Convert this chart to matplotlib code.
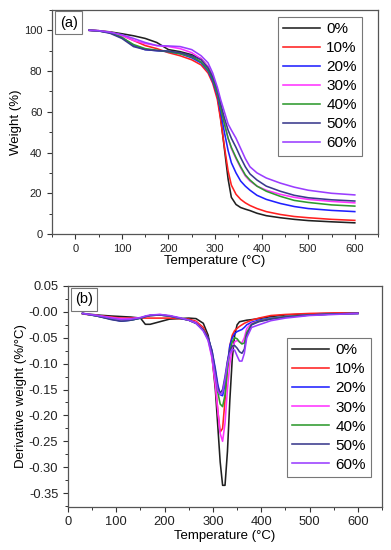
import numpy as np
import matplotlib
matplotlib.use('Agg')
import matplotlib.pyplot as plt
from matplotlib.ticker import MultipleLocator

plt.rcParams['font.family'] = ['Liberation Sans', 'DejaVu Sans']

labels = ['0%', '10%', '20%', '30%', '40%', '50%', '60%']
colors = ['#202020', '#ff2020', '#2020ff', '#ff33ff', '#2e9a2e', '#3a3a8c', '#9a3dff']

# (a) TGA weight loss
temp_a = [30, 50, 75, 100, 125, 150, 175, 200, 225, 250, 270, 285, 295, 305, 312, 320,
          328, 335, 345, 355, 365, 375, 390, 410, 440, 470, 500, 550, 600]
w_0 = [100, 99.8, 99.2, 98.3, 97.3, 96, 94, 90.5, 89.5, 88, 86, 82, 77, 68, 57, 42,
       27, 18, 14.5, 13, 12.2, 11.5, 10.2, 9, 8, 7.2, 6.6, 6, 5.5]
w_10 = [100, 99.7, 99, 97.5, 95, 92.5, 91, 89, 87.5, 85.5, 83, 79, 74, 66, 56, 43,
        31, 24, 19.5, 17, 15.3, 14, 12.5, 11, 9.6, 8.6, 8, 7.2, 6.7]
w_20 = [100, 99.7, 98.8, 96.5, 92.5, 90.5, 90, 89.5, 88.5, 86.5, 84, 80, 75, 68, 60, 50,
        41, 35, 30, 26, 23.5, 21.5, 19, 17, 15, 13.5, 12.5, 11.6, 11]
w_30 = [100, 99.8, 99, 97.5, 95, 93.5, 92.5, 92, 91, 89, 86, 82, 77, 70, 63, 55,
        47, 42, 37, 32.5, 28.5, 26, 23.5, 21.5, 19.5, 18, 17, 16, 15.3]
w_40 = [100, 99.7, 98.8, 96.5, 93, 91, 90.2, 89.5, 88.5, 87, 84.5, 80.5, 76, 69, 62, 54,
        47, 42.5, 37.5, 33, 29, 26.5, 23.5, 21, 18.5, 16.5, 15.5, 14.3, 13.7]
w_50 = [100, 99.7, 98.5, 96, 92, 90.5, 90, 89.8, 89, 87.5, 85.5, 81.5, 77, 71, 64, 57,
        51, 47, 42.5, 37.5, 33, 29.5, 26.5, 23.5, 21, 19, 17.8, 16.8, 16.2]
w_60 = [100, 99.8, 99, 97.8, 96, 94, 92.5, 92.3, 92, 90.5, 87.5, 84, 79, 72, 66, 60,
        54, 51, 47, 42, 37, 33, 30, 27.5, 25, 23, 21.5, 20, 19.2]

# (b) DTG derivative weight
temp_b = [30, 60, 90, 110, 130, 150, 160, 170, 190, 210, 230, 250, 265, 280, 290, 298,
          305, 310, 315, 320, 325, 330, 335, 340, 345, 350, 355, 360, 365, 370, 380,
          395, 420, 450, 500, 550, 600]
d_0 = [-0.003, -0.006, -0.008, -0.009, -0.010, -0.012, -0.024, -0.024, -0.019, -0.014,
       -0.013, -0.012, -0.013, -0.022, -0.045, -0.085, -0.15, -0.22, -0.29, -0.335,
       -0.335, -0.27, -0.17, -0.09, -0.045, -0.025, -0.019, -0.018, -0.017, -0.016,
       -0.015, -0.013, -0.009, -0.006, -0.004, -0.003, -0.002]
d_10 = [-0.004, -0.007, -0.010, -0.012, -0.012, -0.012, -0.012, -0.012, -0.012, -0.012,
        -0.013, -0.014, -0.018, -0.03, -0.05, -0.085, -0.14, -0.19, -0.232, -0.225,
        -0.17, -0.11, -0.065, -0.045, -0.036, -0.032, -0.028, -0.025, -0.022, -0.02,
        -0.016, -0.012, -0.007, -0.005, -0.003, -0.002, -0.002]
d_20 = [-0.003, -0.008, -0.014, -0.018, -0.016, -0.012, -0.009, -0.007, -0.006, -0.008,
        -0.012, -0.016, -0.022, -0.035, -0.05, -0.075, -0.11, -0.14, -0.16, -0.162,
        -0.14, -0.1, -0.065, -0.05, -0.042, -0.038, -0.036, -0.034, -0.03, -0.025,
        -0.02, -0.016, -0.012, -0.009, -0.006, -0.004, -0.003]
d_30 = [-0.003, -0.007, -0.011, -0.013, -0.013, -0.011, -0.009, -0.007, -0.005, -0.008,
        -0.012, -0.016, -0.02, -0.035, -0.055, -0.09, -0.14, -0.19, -0.235, -0.25,
        -0.215, -0.15, -0.1, -0.07, -0.058, -0.055, -0.058, -0.06, -0.05, -0.032,
        -0.022, -0.018, -0.013, -0.009, -0.006, -0.004, -0.003]
d_40 = [-0.003, -0.008, -0.014, -0.017, -0.016, -0.012, -0.009, -0.007, -0.006, -0.008,
        -0.012, -0.016, -0.022, -0.035, -0.052, -0.08, -0.12, -0.155, -0.178, -0.183,
        -0.16, -0.11, -0.075, -0.058, -0.05, -0.052, -0.058, -0.062, -0.06, -0.04,
        -0.024, -0.018, -0.013, -0.009, -0.006, -0.004, -0.003]
d_50 = [-0.003, -0.008, -0.015, -0.018, -0.016, -0.012, -0.009, -0.007, -0.006, -0.008,
        -0.012, -0.016, -0.022, -0.035, -0.05, -0.075, -0.115, -0.145, -0.157, -0.15,
        -0.125, -0.095, -0.075, -0.066, -0.065, -0.07, -0.077, -0.08, -0.072, -0.045,
        -0.025, -0.019, -0.014, -0.01, -0.006, -0.004, -0.003]
d_60 = [-0.003, -0.007, -0.012, -0.015, -0.014, -0.011, -0.008, -0.006, -0.005, -0.007,
        -0.011, -0.016, -0.022, -0.037, -0.055, -0.085, -0.125, -0.152, -0.16, -0.155,
        -0.13, -0.1, -0.08, -0.072, -0.074, -0.085, -0.095, -0.095, -0.08, -0.05,
        -0.03, -0.025, -0.017, -0.012, -0.007, -0.005, -0.003]

weights = [w_0, w_10, w_20, w_30, w_40, w_50, w_60]
derivs = [d_0, d_10, d_20, d_30, d_40, d_50, d_60]

fig = plt.figure(figsize=(3.91, 5.5), dpi=100)
ax1 = fig.add_axes([0.133, 0.5745, 0.834, 0.4075])
ax2 = fig.add_axes([0.174, 0.079, 0.803, 0.401])

for w, c, l in zip(weights, colors, labels):
    ax1.plot(temp_a, w, color=c, lw=1.15, label=l)
for d, c, l in zip(derivs, colors, labels):
    ax2.plot(temp_b, d, color=c, lw=1.15, label=l)

ax1.set_xlim(-50, 650)
ax1.set_ylim(0, 110)
ax1.set_xticks(np.arange(0, 601, 100))
ax1.set_yticks(np.arange(0, 101, 20))
ax1.xaxis.set_minor_locator(MultipleLocator(50))
ax1.yaxis.set_minor_locator(MultipleLocator(10))
ax1.set_xlabel('Temperature (°C)', fontsize=9.5, labelpad=1)
ax1.set_ylabel('Weight (%)', fontsize=9.5, labelpad=1)

ax2.set_xlim(0, 650)
ax2.set_ylim(-0.376, 0.05)
ax2.set_xticks(np.arange(0, 601, 100))
ax2.set_yticks(np.arange(-0.35, 0.051, 0.05))
ax2.set_yticklabels(['%.2f' % v for v in np.arange(-0.35, 0.051, 0.05)])
ax2.xaxis.set_minor_locator(MultipleLocator(50))
ax2.yaxis.set_minor_locator(MultipleLocator(0.025))
ax2.set_xlabel('Temperature (°C)', fontsize=9.5, labelpad=1)
ax2.set_ylabel('Derivative weight (%/°C)', fontsize=9.5, labelpad=1)

for ax, ls in ((ax1, 8), (ax2, 9.3)):
    ax.tick_params(which='both', direction='out', labelsize=ls, top=False, right=False,
                   colors='#333333', labelcolor='#222222')
    ax.tick_params(which='major', length=3.5, width=0.8)
    ax.tick_params(which='minor', length=2, width=0.7)
    for s in ax.spines.values():
        s.set_color('#555555')
        s.set_linewidth(0.9)

bbox_kw = dict(boxstyle='square,pad=0.3', fc='white', ec='#777777', lw=0.8)
ax1.text(0.024, 0.975, '(a)', transform=ax1.transAxes, fontsize=10.5, va='top', ha='left', bbox=bbox_kw)
ax2.text(0.022, 0.972, '(b)', transform=ax2.transAxes, fontsize=10.5, va='top', ha='left', bbox=bbox_kw)

leg_kw = dict(fontsize=11, handlelength=2.4, handletextpad=0.4, labelspacing=0.33,
              borderpad=0.35, fancybox=False, edgecolor='#777777', framealpha=1,
              borderaxespad=0)
l1 = ax1.legend(loc='upper right', bbox_to_anchor=(0.951, 0.969), **leg_kw)
l2 = ax2.legend(loc='upper right', bbox_to_anchor=(0.965, 0.764), **leg_kw)
for lg in (l1, l2):
    lg.get_frame().set_linewidth(0.8)

fig.savefig('out.png', dpi=100)
